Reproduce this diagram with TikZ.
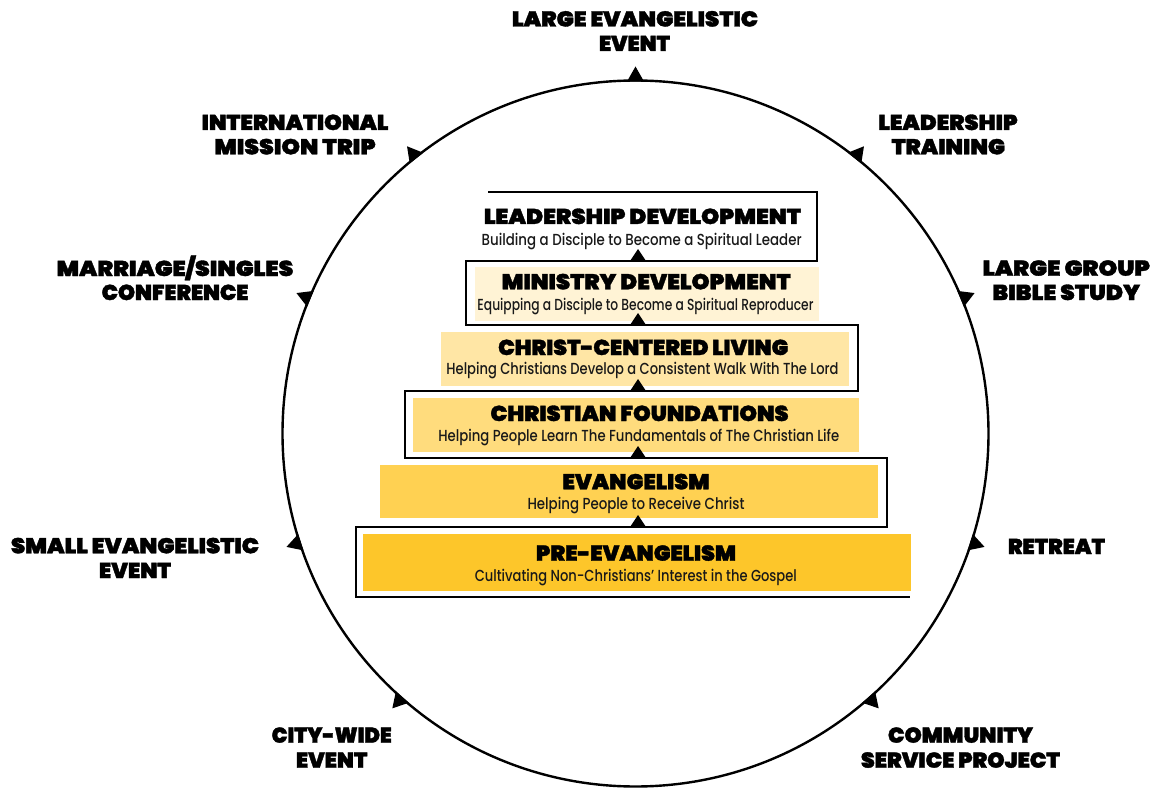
\documentclass[tikz,border=0pt]{standalone}
\usepackage{fontspec}
\usepackage{graphicx}
\newfontfamily\heavyfont{Poppins Black}[FakeBold=1.6]
\newfontfamily\subfont{Poppins Medium}
\newcommand\fitw[2]{\resizebox{#1pt}{\height}{#2}}
\definecolor{cMin}{HTML}{FFF3D5}
\definecolor{cChr}{HTML}{FFE6A5}
\definecolor{cFou}{HTML}{FFDC7D}
\definecolor{cEva}{HTML}{FFD152}
\definecolor{cPre}{HTML}{FDC62A}
\begin{document}
\begin{tikzpicture}[x=1pt,y=-1pt,
  lbl/.style={anchor=base, inner sep=0pt, font=\heavyfont\fontsize{21.5}{24}\selectfont},
  ttl/.style={anchor=base, inner sep=0pt, font=\heavyfont\fontsize{21.5}{24}\selectfont},
  subt/.style={anchor=base, inner sep=0pt, text=black!90, font=\subfont\fontsize{16}{18}\selectfont},
  stair/.style={line width=2.7pt, line join=miter},
  ring/.style={line width=2.4pt},
  tipmark/.style={fill=black}]
\useasboundingbox (0,0) rectangle (1152,789);
\fill[white] (0,0) rectangle (1152,789);

% outer ring
\coordinate (ctr) at (635.5,433.5);
\draw[ring] (ctr) circle[radius=353];
\foreach \a in {-90,-51.5,-22.5,18,48.5,131.5,162,-157.5,-128.5}
  \fill[tipmark, shift={(ctr)}] (\a+1.4:352) -- (\a:367) -- (\a-1.4:352) -- cycle;

% level fills
\fill[cMin] (475,267) rectangle (819,321);
\fill[cChr] (441,332) rectangle (849,386);
\fill[cFou] (413,398) rectangle (859,452);
\fill[cEva] (380,465) rectangle (878,518);
\fill[cPre] (363,534) rectangle (911,591);

% staircase outline
\draw[stair] (488,192) -- (817,192) -- (817,261) -- (466,261) -- (466,325)
  -- (858,325) -- (858,391) -- (405,391) -- (405,458) -- (887,458)
  -- (887,527) -- (356,527) -- (356,597) -- (910,597);

% upward marks between levels
\foreach \yy in {261,325,391,458,527}
  \fill[tipmark] (638,\yy) +(-8,0) -- +(0,-12) -- +(8,0) -- cycle;

% level texts
\node[ttl] (ldT) at (642.4,224) {\fitw{317}{LEADERSHIP DEVELOPMENT}};
\node[subt] (ldS) at (641.7,245.7) {\fitw{320}{Building a Disciple to Become a Spiritual Leader}};
\node[ttl] (mdT) at (646.2,289.3) {\fitw{289}{MINISTRY DEVELOPMENT}};
\node[subt] (mdS) at (645.5,310) {\fitw{336}{Equipping a Disciple to Become a Spiritual Reproducer}};
\node[ttl] (clT) at (643.2,355) {\fitw{290}{CHRIST-CENTERED LIVING}};
\node[subt] (clS) at (642.5,374) {\fitw{392}{Helping Christians Develop a Consistent Walk With The Lord}};
\node[ttl] (cfT) at (639.5,421) {\fitw{298}{CHRISTIAN FOUNDATIONS}};
\node[subt] (cfS) at (638.8,441.7) {\fitw{401}{Helping People Learn The Fundamentals of The Christian Life}};
\node[ttl] (evT) at (636,489.3) {\fitw{147}{EVANGELISM}};
\node[subt] (evS) at (636,509.3) {\fitw{217}{Helping People to Receive Christ}};
\node[ttl] (peT) at (636,560.7) {\fitw{200}{PRE-EVANGELISM}};
\node[subt] (peS) at (635.8,581.7) {\fitw{322}{Cultivating Non-Christians’ Interest in the Gospel}};

% ring labels
\node[lbl] (t1a) at (635,26.5) {\fitw{246}{LARGE EVANGELISTIC}};
\node[lbl] (t1b) at (634.5,51) {\fitw{71}{EVENT}};
\node[lbl] (t2a) at (295,130) {\fitw{186.7}{INTERNATIONAL}};
\node[lbl] (t2b) at (295,154.3) {\fitw{161.3}{MISSION TRIP}};
\node[lbl] (t3a) at (948,130) {\fitw{139.3}{LEADERSHIP}};
\node[lbl] (t3b) at (948.3,154.3) {\fitw{113.3}{TRAINING}};
\node[lbl] (t4a) at (175,276) {\fitw{236.7}{MARRIAGE/SINGLES}};
\node[lbl] (t4b) at (175,300) {\fitw{146.7}{CONFERENCE}};
\node[lbl] (t5a) at (1066.3,275.7) {\fitw{167.3}{LARGE GROUP}};
\node[lbl] (t5b) at (1066.2,300) {\fitw{147.7}{BIBLE STUDY}};
\node[lbl] (t6a) at (135,553.3) {\fitw{248}{SMALL EVANGELISTIC}};
\node[lbl] (t6b) at (135,578) {\fitw{72}{EVENT}};
\node[lbl] (t7) at (1056.5,554) {\fitw{97}{RETREAT}};
\node[lbl] (t8a) at (331.7,742.7) {\fitw{120}{CITY-WIDE}};
\node[lbl] (t8b) at (331.7,767.7) {\fitw{71.3}{EVENT}};
\node[lbl] (t9a) at (960.5,742.7) {\fitw{145}{COMMUNITY}};
\node[lbl] (t9b) at (960.5,767.7) {\fitw{199}{SERVICE PROJECT}};
\end{tikzpicture}
\end{document}
